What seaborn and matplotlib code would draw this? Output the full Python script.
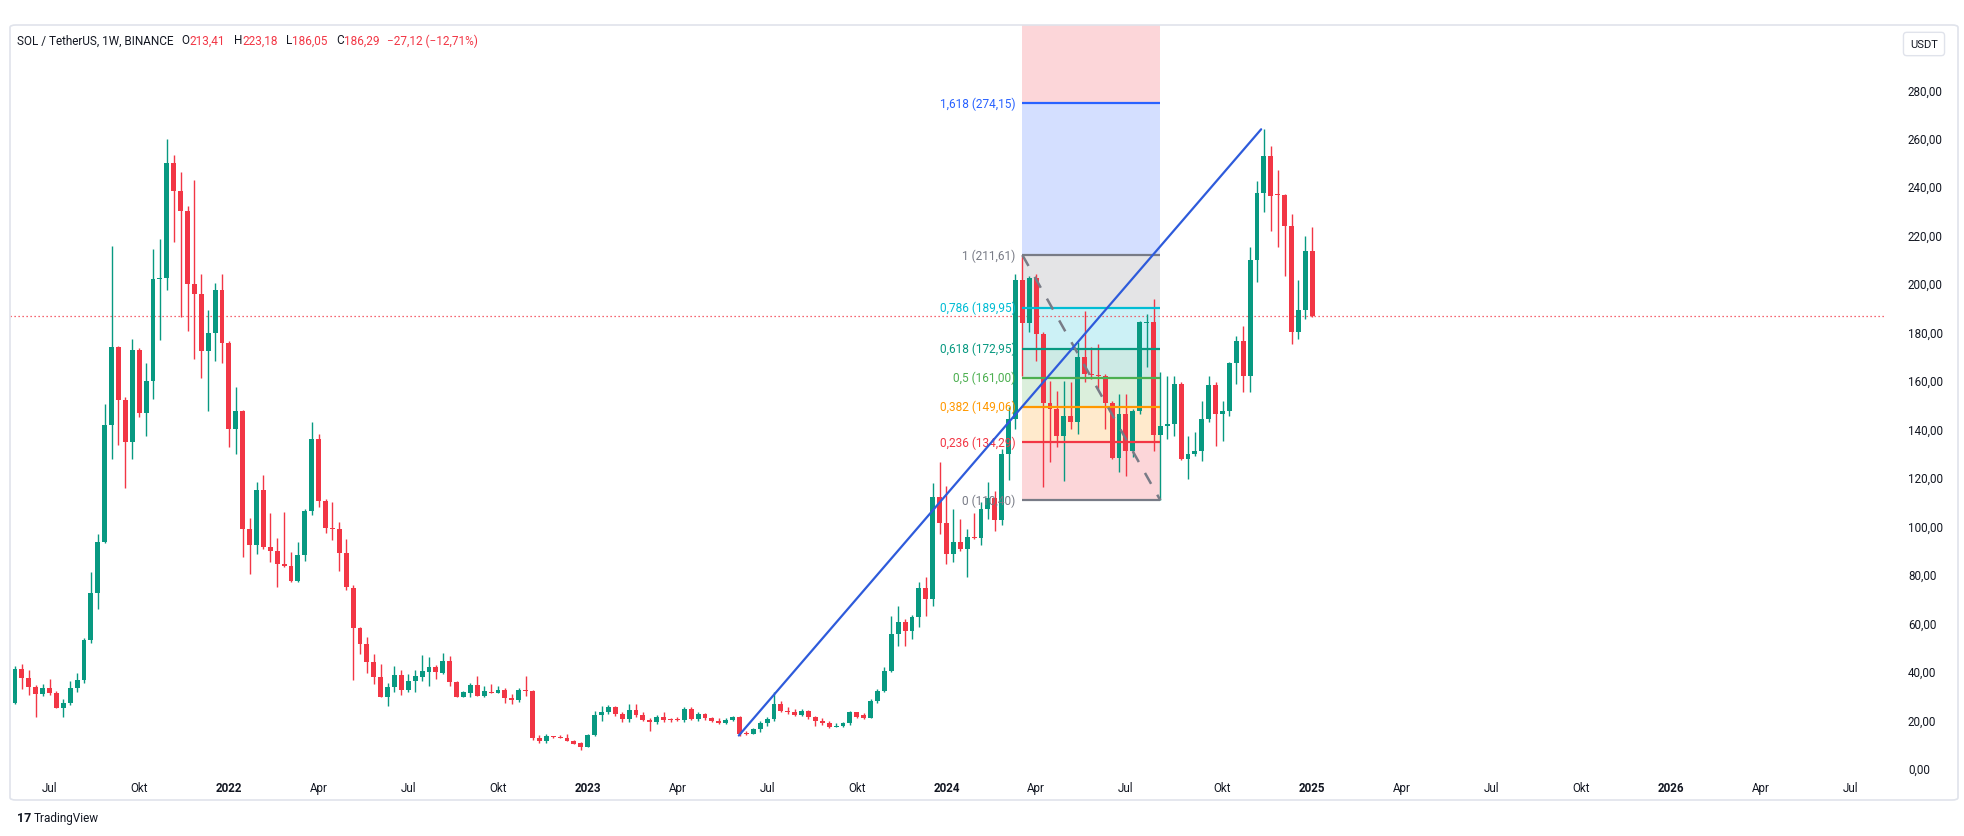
import numpy as np
import pandas as pd
import matplotlib
matplotlib.use("Agg")
from matplotlib import pyplot as plt
from matplotlib.patches import FancyBboxPatch
import seaborn as sns

# %% Data: weekly SOL/USDT candles, first bar is the week of 2021-05-31
first_week = "2021-05-31"
opens = [27.0, 41.0, 37.3, 33.4, 30.4, 33.0, 30.8, 24.9, 27.0, 33.0,
         36.4, 52.8, 72.2, 93.2, 141.3, 173.6, 151.7, 134.5, 172.5, 146.3,
         159.5, 201.6, 202.0, 249.5, 238.2, 229.8, 199.8, 195.5, 172.1, 179.5,
         197.2, 175.3, 139.9, 147.2, 98.6, 91.9, 114.6, 91.0, 89.4, 84.3,
         83.2, 77.2, 87.7, 106.2, 135.9, 110.1, 99.1, 98.6, 88.9, 74.3,
         57.8, 51.2, 43.8, 37.4, 29.4, 33.3, 38.3, 32.3, 35.7, 37.4,
         39.7, 41.8, 39.2, 44.0, 35.6, 29.4, 31.0, 34.3, 29.8, 31.4,
         30.9, 32.3, 28.9, 28.2, 32.3, 31.9, 12.5, 11.0, 13.1, 12.7,
         12.4, 11.3, 10.2, 8.8, 13.6, 21.9, 23.0, 25.0, 22.3, 20.2,
         23.9, 22.0, 19.9, 19.1, 20.9, 20.2, 19.9, 19.7, 24.3, 20.2,
         22.2, 20.5, 19.5, 18.5, 19.9, 20.9, 14.2, 14.0, 16.0, 18.5,
         20.2, 26.4, 23.6, 23.0, 22.0, 23.6, 20.9, 19.2, 18.5, 17.0,
         17.5, 18.6, 22.9, 21.9, 20.6, 27.8, 31.9, 40.1, 55.3, 60.1,
         56.6, 62.1, 74.1, 69.9, 111.6, 101.0, 88.3, 93.1, 90.3, 95.5,
         94.7, 106.8, 111.2, 102.4, 129.7, 144.0, 201.3, 183.5, 202.0, 179.1,
         150.5, 148.1, 137.1, 145.1, 142.6, 169.4, 162.5, 162.0, 161.6, 150.6,
         127.8, 146.1, 130.9, 147.2, 183.5, 184.0, 137.4, 141.0, 142.0, 158.4,
         127.5, 129.5, 130.9, 144.0, 158.0, 146.0, 147.4, 167.1, 176.3, 161.9,
         209.6, 237.1, 252.3, 237.0, 236.3, 223.7, 179.7, 189.1, 213.41]
highs = [42.2, 43.0, 40.5, 34.2, 34.5, 36.8, 31.7, 28.3, 35.9, 39.3,
         53.6, 80.9, 96.6, 150.0, 215.4, 174.1, 153.1, 177.0, 173.3, 166.9,
         214.1, 218.3, 259.6, 252.9, 245.8, 231.8, 242.7, 203.6, 188.8, 199.9,
         204.0, 176.2, 157.0, 147.7, 103.3, 118.0, 121.0, 105.0, 94.9, 105.5,
         89.0, 93.2, 106.7, 142.6, 137.9, 110.9, 109.7, 101.3, 94.4, 75.5,
         58.1, 53.9, 47.0, 43.0, 35.0, 42.2, 40.5, 38.8, 40.5, 46.6,
         45.9, 42.5, 47.4, 46.0, 36.0, 31.9, 34.9, 38.1, 33.7, 34.6,
         33.7, 32.8, 30.5, 33.1, 38.1, 32.0, 13.6, 14.0, 13.4, 13.8,
         14.0, 11.7, 10.8, 14.0, 23.6, 25.7, 26.0, 25.7, 23.2, 26.4,
         26.4, 22.9, 20.5, 21.9, 22.9, 20.6, 20.9, 25.0, 25.0, 22.9,
         22.5, 21.0, 20.8, 20.5, 21.5, 21.3, 15.4, 16.4, 19.5, 21.0,
         31.2, 27.8, 25.0, 24.3, 24.3, 24.0, 21.5, 20.5, 19.5, 18.5,
         19.0, 23.6, 23.3, 22.5, 28.5, 32.5, 41.6, 62.8, 66.9, 61.5,
         63.1, 76.8, 78.6, 117.4, 126.1, 116.2, 106.8, 102.7, 98.6, 105.4,
         109.6, 117.8, 114.2, 131.5, 148.8, 204.0, 211.61, 203.1, 203.8, 179.7,
         159.8, 155.7, 159.5, 159.1, 175.6, 188.7, 173.6, 174.9, 162.5, 151.5,
         154.3, 154.3, 148.1, 184.6, 187.3, 193.5, 163.2, 161.9, 161.9, 159.1,
         137.1, 138.5, 151.5, 161.6, 159.1, 151.5, 167.4, 178.4, 182.5, 214.8,
         242.3, 263.5, 256.7, 246.7, 236.8, 228.6, 201.3, 219.6, 223.18]
lows = [26.3, 32.5, 30.0, 21.0, 29.8, 30.0, 24.6, 21.1, 25.8, 31.4,
        35.1, 51.4, 65.4, 92.9, 127.4, 133.2, 115.5, 127.4, 144.6, 137.0,
        152.2, 176.7, 197.2, 217.1, 186.0, 180.4, 168.6, 161.0, 147.2, 167.9,
        167.1, 132.3, 129.5, 87.0, 80.1, 88.2, 90.4, 84.8, 74.7, 83.0,
        76.7, 76.9, 85.6, 104.2, 107.5, 97.1, 94.1, 81.4, 73.5, 36.4,
        47.0, 39.2, 34.6, 29.2, 25.4, 31.2, 30.2, 31.2, 31.2, 36.0,
        33.9, 36.7, 38.8, 33.7, 29.1, 29.1, 29.4, 29.5, 29.4, 30.8,
        30.8, 26.8, 26.4, 27.3, 29.5, 11.7, 10.5, 10.2, 12.2, 12.2,
        11.0, 9.9, 7.5, 8.6, 13.0, 19.5, 22.3, 21.6, 18.8, 19.1,
        20.9, 19.5, 15.4, 18.1, 19.1, 18.8, 19.2, 18.8, 19.9, 19.5,
        20.0, 19.0, 18.0, 18.0, 19.5, 13.3, 13.6, 13.9, 15.0, 17.5,
        19.5, 22.9, 22.3, 21.6, 21.5, 20.2, 17.5, 17.8, 16.5, 16.8,
        17.0, 17.6, 20.5, 20.2, 20.5, 27.0, 31.2, 39.5, 50.4, 50.4,
        53.2, 58.3, 62.8, 66.7, 96.5, 84.1, 84.8, 89.6, 78.6, 94.4,
        92.1, 102.7, 97.9, 100.2, 119.0, 140.0, 161.9, 179.7, 168.0, 115.8,
        126.1, 132.3, 118.3, 139.9, 137.8, 159.1, 160.5, 156.4, 139.9, 127.5,
        122.0, 120.6, 128.2, 146.0, 165.3, 130.9, 110.40, 135.7, 137.1, 127.1,
        119.2, 128.9, 126.8, 142.6, 132.7, 135.1, 145.4, 158.4, 155.0, 155.0,
        200.4, 229.2, 221.7, 214.8, 203.1, 174.9, 177.0, 185.2, 186.05]
closes = [41.0, 37.3, 33.4, 30.4, 33.0, 30.8, 24.9, 27.0, 33.0, 36.4,
          52.8, 72.2, 93.2, 141.3, 173.6, 151.7, 134.5, 172.5, 146.3, 159.5,
          201.6, 202.0, 249.5, 238.2, 229.8, 199.8, 195.5, 172.1, 179.5, 197.2,
          175.3, 139.9, 147.2, 98.6, 91.9, 114.6, 91.0, 89.4, 84.3, 83.2,
          77.2, 87.7, 106.2, 135.9, 110.1, 99.1, 98.4, 88.9, 74.5, 57.8,
          51.2, 43.8, 37.4, 29.4, 33.3, 38.3, 32.3, 35.7, 37.8, 39.9,
          41.8, 39.4, 44.0, 35.3, 29.4, 31.2, 34.3, 29.8, 31.6, 31.0,
          32.3, 28.9, 28.2, 32.3, 31.9, 12.5, 11.0, 13.1, 12.7, 12.4,
          11.3, 10.0, 8.8, 13.6, 21.9, 23.0, 25.0, 22.3, 20.2, 23.9,
          22.0, 19.9, 19.1, 20.9, 19.9, 19.8, 19.7, 24.3, 20.2, 22.2,
          20.5, 19.5, 18.5, 19.9, 20.9, 14.0, 14.0, 16.0, 18.5, 20.2,
          26.4, 23.6, 22.9, 22.0, 23.6, 20.9, 19.2, 18.5, 17.0, 17.5,
          18.6, 22.9, 20.9, 20.6, 27.8, 31.9, 40.1, 55.3, 60.1, 56.6,
          62.1, 74.1, 69.9, 111.6, 101.0, 88.3, 93.1, 90.3, 95.1, 94.7,
          106.8, 111.2, 102.4, 129.7, 144.0, 201.3, 183.5, 202.0, 179.1, 150.5,
          148.1, 137.1, 145.1, 142.6, 169.4, 162.5, 162.0, 161.6, 150.6, 127.8,
          146.1, 130.9, 147.2, 183.9, 184.0, 137.4, 141.0, 142.0, 158.4, 127.5,
          129.5, 130.9, 144.0, 158.0, 146.0, 147.4, 167.1, 176.3, 161.9, 209.6,
          237.1, 252.3, 236.1, 236.3, 223.7, 179.7, 189.1, 213.41, 186.29]

# Fibonacci retracement (Mar 18 2024 high -> Aug 5 2024 low)
fib_ratios = ["0", "0,236", "0,382", "0,5", "0,618", "0,786", "1", "1,618", "2,618"]
fib_prices = [110.40, 134.29, 149.06, 161.00, 172.95, 189.95, 211.61, 274.15, 375.37]
fib_colors = ["#787B86", "#F23645", "#FF9800", "#4CAF50", "#089981",
              "#00BCD4", "#787B86", "#2962FF", "#F23645"]
fib_weeks = ["2024-03-18", "2024-08-05"]

# trend line drawn from the Jun 2023 low to the Nov 2024 top (bar index)
trend_bars = [104.9, 180.6]
trend_prices = [13.4, 263.5]

last_price = 186.29
price_ticks = list(range(0, 281, 20))

GREEN = "#089981"
RED = "#F23645"
DARK = "#131722"
W, H = 1964, 837

# %% Setup
sns.set_theme(style="white")
plt.rcParams["font.family"] = ["Roboto", "DejaVu Sans"]

fig = plt.figure(figsize=(W / 100, H / 100), dpi=100)
fig.patch.set_facecolor("white")
ax = fig.add_axes([10 / W, 1 - 774 / H, 1875 / W, 748 / H])
ax.set_facecolor("white")
for sp in ax.spines.values():
    sp.set_visible(False)

n = len(closes)
x = np.arange(n)
o, h, l, c = map(np.array, (opens, highs, lows, closes))
up = c >= o
cols = np.where(up, GREEN, RED)
weeks = pd.date_range(first_week, periods=280, freq="7D")

# candles
ax.vlines(x, l, h, colors=cols, lw=1.0, zorder=3)
body_lo = np.minimum(o, c)
body_h = np.maximum(np.abs(c - o), 0.45)
ax.bar(x, body_h, bottom=body_lo, width=0.72, color=cols, lw=0, zorder=4)

# current price dotted line
ax.axhline(last_price, color=RED, lw=0.9, ls=(0, (1, 2.2)), zorder=2)

# fib retracement
fx0 = weeks.get_loc(pd.Timestamp(fib_weeks[0]))
fx1 = weeks.get_loc(pd.Timestamp(fib_weeks[1]))
for i in range(1, len(fib_prices)):
    ax.fill_between([fx0, fx1], fib_prices[i - 1], fib_prices[i],
                    color=fib_colors[i], alpha=0.2, lw=0, zorder=1)
for ratio, price, col in zip(fib_ratios[:-1], fib_prices[:-1], fib_colors[:-1]):
    ax.plot([fx0, fx1], [price, price], color=col, lw=1.6, zorder=5,
            solid_capstyle="butt")
    lbl = "%s (%s)" % (ratio, ("%.2f" % price).replace(".", ","))
    ax.annotate(lbl, xy=(fx0, price), xytext=(-5, 0), textcoords="offset points",
                ha="right", va="center", color=col, fontsize=8.6, zorder=6)
sns.lineplot(x=[fx0, fx1], y=[fib_prices[6], fib_prices[0]], ax=ax,
             color="#787B86", lw=1.8, zorder=5)
ax.lines[-1].set_linestyle((0, (5, 5)))

# blue trend line
sns.lineplot(x=trend_bars, y=trend_prices, ax=ax, color="#2E5BDB", lw=1.6, zorder=6)

# price scale
ax.yaxis.tick_right()
ax.set_yticks(price_ticks)
ax.set_yticklabels([("%.2f" % t).replace(".", ",") for t in price_ticks])
ax.tick_params(axis="y", length=0, pad=16.5, labelsize=8.4, labelcolor=DARK)
for t in ax.get_yticklabels():
    t.set_horizontalalignment("left")

# time scale: first bar of each quarter month
xmin, xmax = (10 - 15) / 6.9, (1885 - 15) / 6.9
names = {1: None, 4: "Apr", 7: "Jul", 10: "Okt"}
tick_pos, tick_lbl, is_year = [], [], []
for i, d in enumerate(weeks):
    if d.month in names and d.day <= 7 and xmin < i < xmax - 3:
        tick_pos.append(i)
        tick_lbl.append(str(d.year) if d.month == 1 else names[d.month])
        is_year.append(d.month == 1)
ax.set_xticks(tick_pos)
ax.set_xticklabels(tick_lbl)
ax.tick_params(axis="x", length=0, pad=6, labelsize=8.4, labelcolor=DARK)
for t, yr in zip(ax.get_xticklabels(), is_year):
    if yr:
        t.set_fontweight("bold")
ax.grid(False)

# axes limits (after ticks so they are not widened)
ax.set_xlim(xmin, xmax)
ax.set_ylim((769 - 774) / 2.424, (769 - 26) / 2.424)

# chart frame
fig.add_artist(FancyBboxPatch((10 / W, 1 - 801 / H), 1948 / W, 775 / H,
                              boxstyle="round,pad=0,rounding_size=0.003",
                              transform=fig.transFigure, fill=False,
                              ec="#E0E3EB", lw=1.2))

# USDT badge
fig.text(1924 / W, 1 - 45 / H, "USDT", ha="center", va="center", fontsize=8,
         color=DARK, bbox=dict(boxstyle="round,pad=0.6,rounding_size=0.3",
                               fc="white", ec="#E0E3EB", lw=1))

# legend header
parts = [("O", DARK, 6), ("213,41", RED, 0), ("H", DARK, 6), ("223,18", RED, 0),
         ("L", DARK, 6), ("186,05", RED, 0), ("C", DARK, 6), ("186,29", RED, 0),
         ("\u221227,12 (\u221212,71%)", RED, 6)]
prev = fig.text(17 / W, 1 - 41 / H, "SOL / TetherUS, 1W, BINANCE", ha="left",
                va="center", fontsize=8.5, color=DARK)
for s, col, gap in parts:
    prev = ax.annotate(s, xy=(1, 0.5), xycoords=prev, xytext=(gap, 0),
                       textcoords="offset points", ha="left", va="center",
                       fontsize=8.5, color=col, annotation_clip=False)

# TradingView mark
logo = fig.text(17 / W, 1 - 819 / H, "17", ha="left", va="center", fontsize=9,
                fontweight="bold", color=DARK)
ax.annotate("TradingView", xy=(1, 0.5), xycoords=logo, xytext=(2, 0),
            textcoords="offset points", ha="left", va="center", fontsize=8.5,
            color=DARK, annotation_clip=False)

plt.savefig("out.png", dpi=100, facecolor="white")
plt.close()
